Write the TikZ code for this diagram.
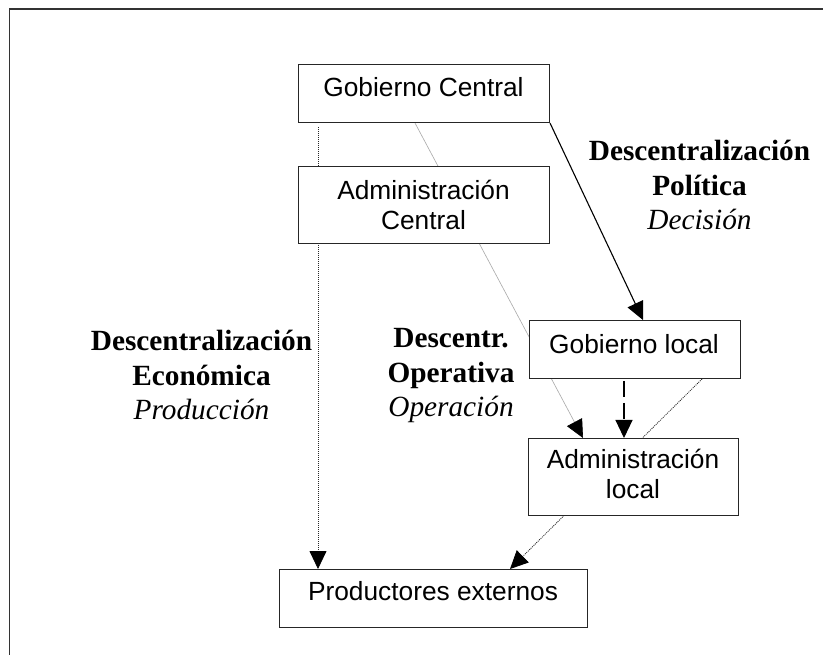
\documentclass[tikz,border=0pt]{standalone}
\usepackage{fontspec}
\setmainfont{Liberation Serif}
\newfontfamily\arialf{Liberation Sans}
\usetikzlibrary{arrows.meta}
\pgfdeclarelayer{background}
\pgfsetlayers{background,main}
\begin{document}
\begin{tikzpicture}[x=1pt,y=-1pt,
  box/.style={draw=black!85, line width=1pt, fill=white, rectangle, inner sep=0pt, anchor=north west},
  btext/.style={font=\arialf\fontsize{26.3}{30.5}\selectfont, align=center, inner sep=0pt},
  lbl/.style={font=\fontsize{29.3}{34.5}\selectfont, align=center, inner sep=0pt},
  tip/.style={-{Triangle[length=18pt,width=17pt,color=black]}},
  dotline/.style={black!85, line width=0.8pt, dash pattern=on 1pt off 1pt},
  greyline/.style={black!35, line width=0.6pt},
]
\useasboundingbox (0,0) rectangle (823,655);
\draw[line width=1.5pt, black!80] (9.5,655) -- (9.5,9) -- (823,9);

% boxes
\node[box, minimum width=251pt, minimum height=58pt] (gc) at (298,64) {};
\node[box, minimum width=251pt, minimum height=77pt] (ac) at (298,166) {};
\node[box, minimum width=211pt, minimum height=58pt] (gl) at (529,320) {};
\node[box, minimum width=210pt, minimum height=77pt] (al) at (528,438) {};
\node[box, minimum width=308pt, minimum height=58pt] (pe) at (279,569) {};

% box texts
\node[btext] (gct) at (423.5,87) {Gobierno Central};
\node[btext] (act) at (423.5,205) {Administración\\Central};
\node[btext] (glt) at (634,344) {Gobierno local};
\node[btext] (alt) at (633,474) {Administración\\local};
\node[btext] (pet) at (433,591) {Productores externos};

% connectors
\begin{pgfonlayer}{background}
\draw[dotline, tip] ([xshift=20pt,yshift=-4pt]gc.south west) -- ([xshift=39pt]pe.north west);
\draw[greyline, tip] ([xshift=117pt]gc.south west) -- ([xshift=55pt]al.north west);
\draw[black, line width=1.1pt, tip] (gc.south east) -- ([xshift=114pt]gl.north west);
\draw[black, line width=1.1pt, dash pattern=on 16pt off 6pt, tip] ([xshift=95pt,yshift=-2pt]gl.south west) -- ([xshift=96pt]al.north west);
\draw[dotline, tip] ([xshift=173pt]gl.south west) -- ([xshift=231pt]pe.north west);
\end{pgfonlayer}

% labels
\node[lbl] (lpol) at (699.5,185) {\textbf{Descentralización}\\\textbf{Política}\\\textit{Decisión}};
\node[lbl] (leco) at (201.5,375) {\textbf{Descentralización}\\\textbf{Económica}\\\textit{Producción}};
\node[lbl] (lope) at (451,376) {\textbf{Descentr.}\\\textbf{Operativa}\\\textit{Operación}};
\end{tikzpicture}
\end{document}
